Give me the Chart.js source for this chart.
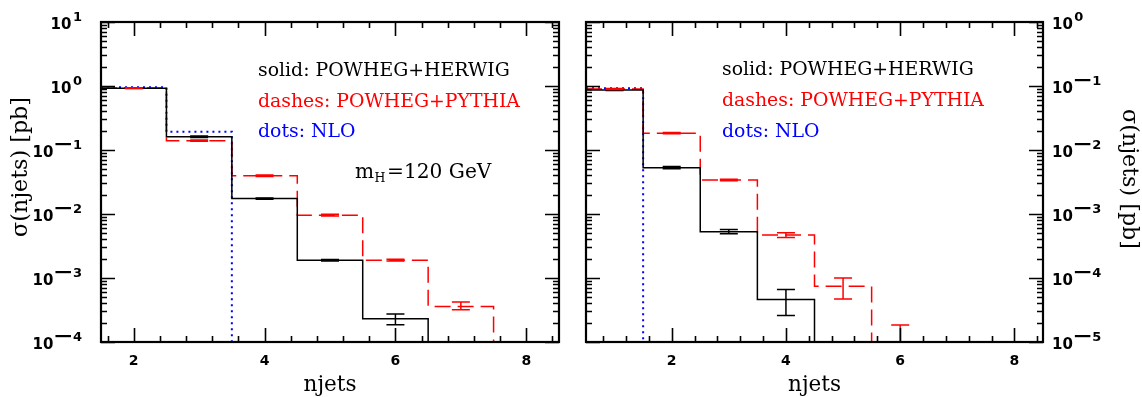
<!DOCTYPE html>
<html><head><meta charset="utf-8">
<script src="https://cdn.jsdelivr.net/npm/chart.js@4.4.0/dist/chart.umd.min.js"></script>
<style>
html,body{margin:0;padding:0;background:#fff;}
#wrap{position:relative;width:1142px;height:397px;overflow:hidden;background:#fff;}
canvas{position:absolute;top:0;}
#cL{left:0;} #cR{left:571px;}
</style></head><body>
<div id="wrap"><canvas id="cL" width="571" height="397"></canvas><canvas id="cR" width="571" height="397"></canvas></div>
<script>
// ---------- data ----------
const njetsLeft   = [2, 3, 4, 5, 6, 7];
const herwigLeft   = [0.92, 0.161, 0.0174, 0.0019, 0.00023];
const herwigLeftLo = [0.91, 0.157, 0.0170, 0.00185, 0.000186];
const herwigLeftHi = [0.93, 0.165, 0.0178, 0.00195, 0.000275];
const pythiaLeft   = [0.93, 0.14, 0.0396, 0.0096, 0.0019, 0.00036];
const pythiaLeftLo = [0.92, 0.137, 0.0385, 0.0093, 0.00184, 0.00032];
const pythiaLeftHi = [0.94, 0.143, 0.0405, 0.0099, 0.00196, 0.00042];
const nloLeft      = [0.96, 0.193];

const njetsRight    = [1, 2, 3, 4, 5, 6];
const herwigRight   = [0.0866, 0.0053, 0.00053, 0.000046];
const herwigRightLo = [0.085, 0.0051, 0.00049, 0.000026];
const herwigRightHi = [0.088, 0.0055, 0.00057, 0.000066];
const pythiaRight   = [0.0897, 0.0183, 0.0034, 0.00047, 0.000074, 0.000009];
const pythiaRightLo = [0.088, 0.0179, 0.0033, 0.00043, 0.000047, 0.000004];
const pythiaRightHi = [0.091, 0.0187, 0.0035, 0.00051, 0.0001, 0.0000185];
const nloRight      = [0.092];

const xTickValues   = [2, 4, 6, 8];
const yTickExpLeft  = [1, 0, -1, -2, -3, -4];
const yTickExpRight = [0, -1, -2, -3, -4, -5];
const legendLines   = ['solid: POWHEG+HERWIG', 'dashes: POWHEG+PYTHIA', 'dots: NLO'];
const legendColors  = ['#000000', '#ff0000', '#0000ff'];
const xTitle = 'njets';
const yTitle = '\u03c3(njets) [pb]';
const massLabel = ['m', 'H', '=120 GeV'];

// ---------- helpers ----------
const FLOOR = 1e-8;
function stepPoints(cats, vals) {
  const pts = vals.map((v, i) => ({ x: cats[i] - 0.5, y: v }));
  pts.push({ x: cats[vals.length - 1] + 0.5, y: FLOOR });
  return pts;
}
function serif(size, bold) { return (bold ? 'bold ' : '') + size + 'px "DejaVu Serif"'; }
function fitSize(ctx, text, target, bold) {
  ctx.font = serif(20, bold);
  return 20 * target / ctx.measureText(text).width;
}
function drawPow(ctx, exp, x, y, align) {
  ctx.save();
  ctx.fillStyle = '#000';
  ctx.textBaseline = 'alphabetic';
  ctx.textAlign = 'left';
  const baseFont = 'bold 15px "DejaVu Sans"', supFont = 'bold 13px "DejaVu Sans"';
  ctx.font = baseFont;
  const wb = ctx.measureText('10').width;
  ctx.font = supFont;
  const digits = String(Math.abs(exp));
  const wd = ctx.measureText(digits).width;
  const gap = 1.5, minusW = exp < 0 ? 18 : 0;
  const total = wb + gap + minusW + wd;
  const sx = align === 'right' ? x - total : x;
  ctx.font = baseFont;
  ctx.fillText('10', sx, y + 7);
  let px = sx + wb + gap;
  if (exp < 0) { ctx.fillRect(px + 0.5, y - 7, 15.5, 2.2); px += minusW; }
  ctx.font = supFont;
  ctx.fillText(digits, px, y - 1);
  ctx.restore();
}

function makeDecor(cfg) {
  return {
    id: 'decor',
    afterDatasetsDraw(chart) {
      const ctx = chart.ctx, xs = chart.scales.x, ys = chart.scales.y, a = chart.chartArea;
      ctx.save();
      ctx.beginPath(); ctx.rect(a.left, a.top, a.right - a.left, a.bottom - a.top); ctx.clip();
      ctx.lineWidth = 1.5;
      cfg.errors.forEach(e => {
        ctx.strokeStyle = e.color;
        e.cats.forEach((c, i) => {
          if (e.lo[i] === undefined) return;
          const px = xs.getPixelForValue(c);
          const y1 = ys.getPixelForValue(e.lo[i]), y2 = ys.getPixelForValue(e.hi[i]);
          ctx.beginPath();
          ctx.moveTo(px, y1); ctx.lineTo(px, y2);
          ctx.moveTo(px - 9, y1); ctx.lineTo(px + 9, y1);
          ctx.moveTo(px - 9, y2); ctx.lineTo(px + 9, y2);
          ctx.stroke();
        });
      });
      ctx.restore();
    },
    afterDraw(chart) {
      const ctx = chart.ctx, xs = chart.scales.x, ys = chart.scales.y, a = chart.chartArea;
      ctx.save();
      ctx.strokeStyle = '#000'; ctx.fillStyle = '#000';
      // ticks
      ctx.lineWidth = 1.6;
      ctx.beginPath();
      const k0 = Math.ceil((xs.min - 2) / 0.4 - 1e-6), k1 = Math.floor((xs.max - 2) / 0.4 + 1e-6);
      for (let k = k0; k <= k1; k++) {
        const v = 2 + 0.4 * k;
        const major = Math.abs(v / 2 - Math.round(v / 2)) < 1e-6;
        const L = major ? 14 : 6;
        const px = Math.round(xs.getPixelForValue(v)) + 0.5;
        ctx.moveTo(px, a.bottom); ctx.lineTo(px, a.bottom - L);
        ctx.moveTo(px, a.top); ctx.lineTo(px, a.top + L);
      }
      const e0 = Math.round(Math.log10(ys.min)), e1 = Math.round(Math.log10(ys.max));
      for (let e = e0; e <= e1; e++) {
        for (let m = 1; m <= 9; m++) {
          const v = m * Math.pow(10, e);
          if (v > ys.max * 1.0001) break;
          const L = m === 1 ? 14 : 6;
          const py = Math.round(ys.getPixelForValue(v)) + 0.5;
          ctx.moveTo(a.left, py); ctx.lineTo(a.left + L, py);
          ctx.moveTo(a.right, py); ctx.lineTo(a.right - L, py);
        }
      }
      ctx.stroke();
      // frame
      ctx.lineWidth = 2.2;
      ctx.strokeRect(a.left, a.top, a.right - a.left, a.bottom - a.top);
      // y tick labels
      cfg.yExps.forEach(e => {
        const py = ys.getPixelForValue(Math.pow(10, e));
        if (cfg.side === 'left') drawPow(ctx, e, a.left - 19, py, 'right');
        else drawPow(ctx, e, a.right + 9, py, 'left');
      });
      // x title
      const ts = fitSize(ctx, xTitle, 53, false);
      ctx.font = serif(ts, false);
      ctx.textAlign = 'center'; ctx.textBaseline = 'alphabetic';
      ctx.fillText(xTitle, (a.left + a.right) / 2, 391);
      // y title
      const ys2 = fitSize(ctx, yTitle, 140, false);
      ctx.font = serif(ys2, false);
      ctx.save();
      if (cfg.side === 'left') {
        ctx.translate(27, 167); ctx.rotate(-Math.PI / 2);
      } else {
        ctx.translate(cfg.yTitleX, 179); ctx.rotate(Math.PI / 2);
      }
      ctx.textAlign = 'center';
      ctx.fillText(yTitle, 0, 0);
      ctx.restore();
      // legend text
      const ls = fitSize(ctx, legendLines[0], 252, false);
      ctx.font = serif(ls, false);
      ctx.textAlign = 'left';
      legendLines.forEach((t, i) => {
        ctx.fillStyle = legendColors[i];
        ctx.fillText(t, cfg.legendX, cfg.legendY[i]);
      });
      if (cfg.mass) {
        ctx.fillStyle = '#000';
        const ms = ls * 1.07;
        let x = cfg.mass.x;
        ctx.font = serif(ms, false);
        ctx.fillText(massLabel[0], x, cfg.mass.y); x += ctx.measureText(massLabel[0]).width + 0.5;
        ctx.font = serif(ms * 0.62, false);
        ctx.fillText(massLabel[1], x, cfg.mass.y + 4); x += ctx.measureText(massLabel[1]).width + 1.5;
        ctx.font = serif(ms, false);
        ctx.fillText(massLabel[2], x, cfg.mass.y);
      }
      ctx.restore();
    }
  };
}

function baseConfig(cfg) {
  return {
    type: 'line',
    data: {
      datasets: [
        { label: 'POWHEG+HERWIG', data: stepPoints(cfg.cats, cfg.herwig), borderColor: '#000', borderWidth: 1.5, stepped: true, pointRadius: 0 },
        { label: 'POWHEG+PYTHIA', data: stepPoints(cfg.cats, cfg.pythia), borderColor: '#ff0000', borderWidth: 1.5, borderDash: [16, 7], stepped: true, pointRadius: 0 },
        { label: 'NLO', data: stepPoints(cfg.cats, cfg.nlo), borderColor: '#0000ff', borderWidth: 2, borderDash: [2, 4], stepped: true, pointRadius: 0 }
      ]
    },
    options: {
      responsive: false, animation: false, devicePixelRatio: 1, events: [],
      layout: { padding: cfg.padding },
      plugins: { legend: { display: false }, tooltip: { enabled: false } },
      scales: {
        x: {
          type: 'linear', min: cfg.xmin, max: cfg.xmax,
          grid: { display: false, drawTicks: false }, border: { display: false },
          afterBuildTicks: s => { s.ticks = xTickValues.map(v => ({ value: v })); },
          afterFit: s => { s.height = 55; },
          ticks: { color: '#000', font: { family: 'DejaVu Sans', weight: 'bold', size: 14 }, padding: 11, maxRotation: 0, autoSkip: false }
        },
        y: {
          type: 'logarithmic', position: cfg.side, min: cfg.ymin, max: cfg.ymax,
          grid: { display: false, drawTicks: false }, border: { display: false },
          ticks: { display: false },
          afterFit: s => { s.width = cfg.yWidth; }
        }
      }
    },
    plugins: [makeDecor(cfg)]
  };
}

new Chart(document.getElementById('cL'), baseConfig({
  side: 'left', cats: njetsLeft, herwig: herwigLeft, pythia: pythiaLeft, nlo: nloLeft,
  xmin: 1.5, xmax: 8.5, ymin: 1e-4, ymax: 10, yWidth: 101,
  padding: { top: 22, right: 12, left: 0, bottom: 0 },
  yExps: yTickExpLeft,
  errors: [
    { cats: njetsLeft, lo: herwigLeftLo, hi: herwigLeftHi, color: '#000' },
    { cats: njetsLeft, lo: pythiaLeftLo, hi: pythiaLeftHi, color: '#ff0000' }
  ],
  legendX: 258, legendY: [75.5, 106.5, 137],
  mass: { x: 355, y: 178 }
}));

new Chart(document.getElementById('cR'), baseConfig({
  side: 'right', cats: njetsRight, herwig: herwigRight, pythia: pythiaRight, nlo: nloRight,
  xmin: 0.5, xmax: 8.5, ymin: 1e-5, ymax: 1, yWidth: 99,
  padding: { top: 22, right: 0, left: 15, bottom: 0 },
  yExps: yTickExpRight,
  errors: [
    { cats: njetsRight, lo: herwigRightLo, hi: herwigRightHi, color: '#000' },
    { cats: njetsRight, lo: pythiaRightLo, hi: pythiaRightHi, color: '#ff0000' }
  ],
  legendX: 151, legendY: [75, 106, 137],
  yTitleX: 552
}));
</script>
</body></html>
